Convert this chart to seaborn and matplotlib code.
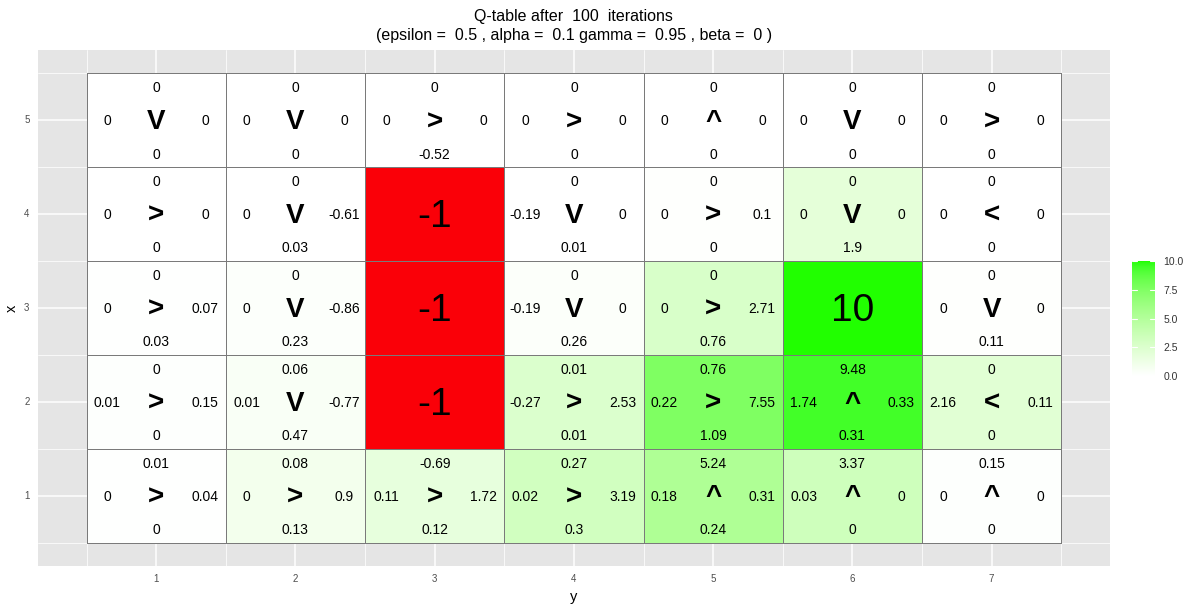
# Q-table heatmap, ggplot look

import numpy as np
import pandas as pd
import matplotlib as mpl
mpl.use('Agg')
import matplotlib.pyplot as plt
from matplotlib.colors import ListedColormap
import seaborn as sns

# grid rows (x) from top to bottom, columns (y)
xs = [5, 4, 3, 2, 1]
ys = [1, 2, 3, 4, 5, 6, 7]

# Q-values per action, None where the state is terminal
q_top = [[0, 0, 0, 0, 0, 0, 0],
         [0, 0, None, 0, 0, 0, 0],
         [0, 0, None, 0, 0, None, 0],
         [0, 0.06, None, 0.01, 0.76, 9.48, 0],
         [0.01, 0.08, -0.69, 0.27, 5.24, 3.37, 0.15]]
q_bottom = [[0, 0, -0.52, 0, 0, 0, 0],
            [0, 0.03, None, 0.01, 0, 1.9, 0],
            [0.03, 0.23, None, 0.26, 0.76, None, 0.11],
            [0, 0.47, None, 0.01, 1.09, 0.31, 0],
            [0, 0.13, 0.12, 0.3, 0.24, 0, 0]]
q_left = [[0, 0, 0, 0, 0, 0, 0],
          [0, 0, None, -0.19, 0, 0, 0],
          [0, 0, None, -0.19, 0, None, 0],
          [0.01, 0.01, None, -0.27, 0.22, 1.74, 2.16],
          [0, 0, 0.11, 0.02, 0.18, 0.03, 0]]
q_right = [[0, 0, 0, 0, 0, 0, 0],
           [0, -0.61, None, 0, 0.1, 0, 0],
           [0.07, -0.86, None, 0, 2.71, None, 0],
           [0.15, -0.77, None, 2.53, 7.55, 0.33, 0.11],
           [0.04, 0.9, 1.72, 3.19, 0.31, 0, 0]]
policy = [['V', 'V', '>', '>', '^', 'V', '>'],
          ['>', 'V', '', 'V', '>', 'V', '<'],
          ['>', 'V', '', 'V', '>', '', 'V'],
          ['>', 'V', '', '>', '>', '^', '<'],
          ['>', '>', '>', '>', '^', '^', '^']]
# terminal states: (x, y) -> reward
terminals = {(4, 3): -1, (3, 3): -1, (2, 3): -1, (3, 6): 10}

legend_ticks = [0, 2.5, 5, 7.5, 10]


def fmt(v):
    return f"{v:g}"


# fill = best Q-value of the state (or its reward if terminal)
fill = np.zeros((len(xs), len(ys)))
for i, x in enumerate(xs):
    for j, y in enumerate(ys):
        if (x, y) in terminals:
            fill[i, j] = terminals[(x, y)]
        else:
            fill[i, j] = max(q_top[i][j], q_bottom[i][j], q_left[i][j], q_right[i][j])
fill_df = pd.DataFrame(fill, index=xs, columns=ys)
wall = fill_df < 0


# white -> green ramp interpolated in CIELAB, like ggplot's gradient
def to_lab(rgb):
    c = np.array(rgb, dtype=float)
    c = np.where(c <= 0.04045, c / 12.92, ((c + 0.055) / 1.055) ** 2.4)
    m = np.array([[0.4124, 0.3576, 0.1805], [0.2126, 0.7152, 0.0722], [0.0193, 0.1192, 0.9505]])
    xyz = m @ c / np.array([0.95047, 1.0, 1.08883])
    f = np.where(xyz > 0.008856, np.cbrt(xyz), 7.787 * xyz + 16 / 116)
    return np.array([116 * f[1] - 16, 500 * (f[0] - f[1]), 200 * (f[1] - f[2])])


def from_lab(lab):
    fy = (lab[0] + 16) / 116
    f = np.array([fy + lab[1] / 500, fy, fy - lab[2] / 200])
    xyz = np.where(f ** 3 > 0.008856, f ** 3, (f - 16 / 116) / 7.787) * np.array([0.95047, 1.0, 1.08883])
    m = np.array([[3.2406, -1.5372, -0.4986], [-0.9689, 1.8758, 0.0415], [0.0557, -0.2040, 1.0570]])
    c = np.clip(m @ xyz, 0, 1)
    c = np.where(c <= 0.0031308, 12.92 * c, 1.055 * c ** (1 / 2.4) - 0.055)
    return np.clip(c, 0, 1)


lo, hi = to_lab([1, 1, 1]), to_lab([0.13, 1, 0])
green = ListedColormap([from_lab(lo + t * (hi - lo)) for t in np.linspace(0, 1, 256)])

sns.set_style('white')
plt.rcParams['font.family'] = ['Liberation Sans', 'DejaVu Sans']
plt.rcParams['text.color'] = 'black'

fig = plt.figure(figsize=(12, 6.08), dpi=100)
ax = fig.add_axes([0.0315, 0.0691, 0.8935, 0.8487])
cax = fig.add_axes([0.9433, 0.3816, 0.0192, 0.189])

sns.heatmap(fill_df, mask=wall, cmap=green, vmin=0, vmax=10, linewidths=0.45,
            linecolor='#7a7a7a', ax=ax, cbar_ax=cax)
cbar = ax.collections[0].colorbar
sns.heatmap(fill_df, mask=~wall, cmap=ListedColormap(['#FA0008']), linewidths=0.45,
            linecolor='#7a7a7a', ax=ax, cbar=False)

# cell labels (small downward nudge to sit like ggplot's vjust=0.5)
dy = 0.01
for i, x in enumerate(xs):
    for j, y in enumerate(ys):
        cx, cy = j + 0.5, i + 0.5 + dy
        if (x, y) in terminals:
            ax.text(cx, cy + 0.02, fmt(terminals[(x, y)]), ha='center', va='center', fontsize=28)
            continue
        ax.text(cx, cy + 0.01, policy[i][j], ha='center', va='center', fontsize=20,
                fontweight='bold')
        ax.text(cx, cy - 0.35, fmt(q_top[i][j]), ha='center', va='center', fontsize=10)
        ax.text(cx, cy + 0.355, fmt(q_bottom[i][j]), ha='center', va='center', fontsize=10)
        ax.text(cx - 0.35, cy, fmt(q_left[i][j]), ha='center', va='center', fontsize=10)
        ax.text(cx + 0.35, cy, fmt(q_right[i][j]), ha='center', va='center', fontsize=10)

ax.set_facecolor('#E5E5E5')
ax.set_xlim(-0.35, len(ys) + 0.35)
ax.set_ylim(len(xs) + 0.25, -0.25)
ax.set_xticks(np.arange(len(ys)) + 0.5, [str(y) for y in ys])
ax.set_yticks(np.arange(len(xs)) + 0.5, [str(x) for x in xs], rotation=0)
ax.set_xticks(np.arange(len(ys) + 1), minor=True)
ax.set_yticks(np.arange(len(xs) + 1), minor=True)
ax.grid(which='major', color='white', lw=1.1)
ax.grid(which='minor', color='white', lw=0.55)
ax.set_axisbelow(True)
for s in ax.spines.values():
    s.set_visible(False)
ax.tick_params(which='major', length=3, width=0.8, color='#333333', labelsize=7,
               labelcolor='#4D4D4D', pad=3)
ax.tick_params(which='minor', length=0)
ax.set_xlabel('y', fontsize=10.5, labelpad=4, color='black')
ax.set_ylabel('x', fontsize=10.5, labelpad=4, color='black')

# legend bar
cbar.set_ticks(legend_ticks, labels=[f"{t:.1f}" for t in legend_ticks])
cbar.outline.set_visible(False)
cax.tick_params(length=0, labelsize=7.5, labelcolor='#333333', pad=6)
for t in legend_ticks:
    cax.axhline(t, xmin=0, xmax=0.2, color='white', lw=0.8)
    cax.axhline(t, xmin=0.8, xmax=1, color='white', lw=0.8)

fig.text(0.478, 0.986, 'Q-table after  100  iterations\n'
         '(epsilon =  0.5 , alpha =  0.1 gamma =  0.95 , beta =  0 )',
         ha='center', va='top', fontsize=11.5, linespacing=1.35)

plt.savefig('out.png', dpi=100)
